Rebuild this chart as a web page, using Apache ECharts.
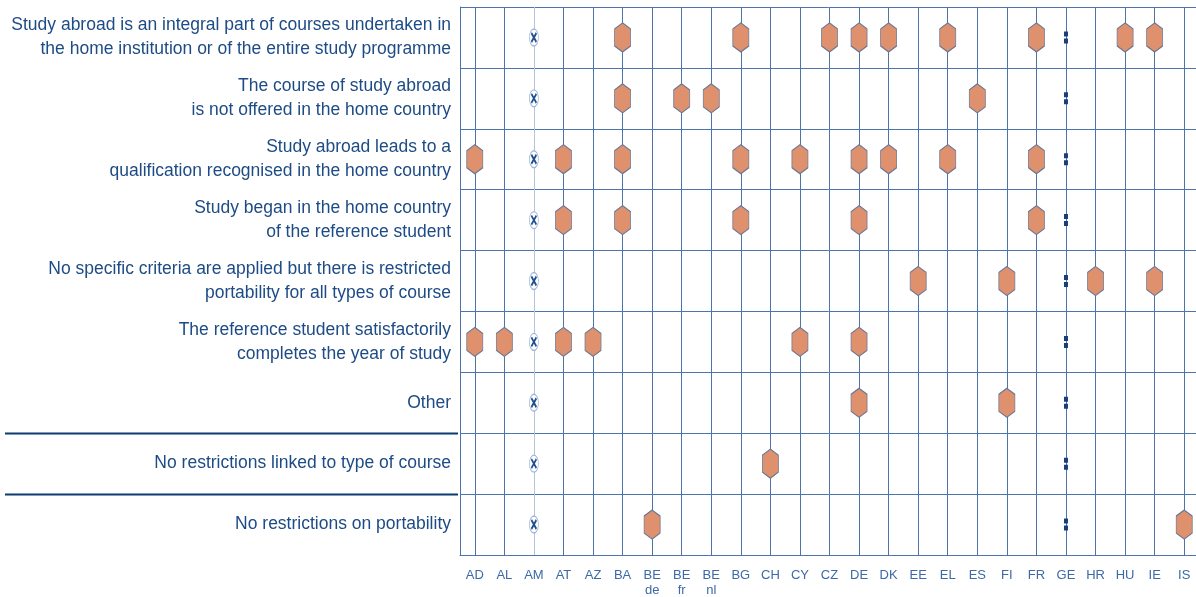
<!DOCTYPE html>
<html>
<head>
<meta charset="utf-8">
<script src="https://cdn.jsdelivr.net/npm/echarts@6/dist/echarts.min.js"></script>
<style>
  html, body { margin: 0; padding: 0; background: #fff; }
  #chart { width: 1196px; height: 597px; }
</style>
</head>
<body>
<div id="chart"></div>
<script>
// countries along the bottom
const countries = ['AD', 'AL', 'AM', 'AT', 'AZ', 'BA', 'BE de', 'BE fr', 'BE nl', 'BG', 'CH', 'CY', 'CZ',
  'DE', 'DK', 'EE', 'EL', 'ES', 'FI', 'FR', 'GE', 'HR', 'HU', 'IE', 'IS'];

// criteria (rows, top to bottom)
const criteria = [
  'Study abroad is an integral part of courses undertaken in\nthe home institution or of the entire study programme',
  'The course of study abroad\nis not offered in the home country',
  'Study abroad leads to a\nqualification recognised in the home country',
  'Study began in the home country\nof the reference student',
  'No specific criteria are applied but there is restricted\nportability for all types of course',
  'The reference student satisfactorily\ncompletes the year of study',
  'Other',
  'No restrictions linked to type of course',
  'No restrictions on portability'
];

// which countries apply each criterion
const integralPart = ['BA', 'BG', 'CZ', 'DE', 'DK', 'EL', 'FR', 'HU', 'IE'];
const notOfferedAtHome = ['BA', 'BE fr', 'BE nl', 'ES'];
const qualificationRecognised = ['AD', 'AT', 'BA', 'BG', 'CY', 'DE', 'DK', 'EL', 'FR'];
const studyBeganAtHome = ['AT', 'BA', 'BG', 'DE', 'FR'];
const restrictedAllCourses = ['EE', 'FI', 'HR', 'IE'];
const completesYear = ['AD', 'AL', 'AT', 'AZ', 'CY', 'DE'];
const otherCriteria = ['DE', 'FI'];
const noCourseRestrictions = ['CH'];
const noPortabilityRestrictions = ['BE de', 'IS'];

// special columns: shown in every row
const notApplicable = ['AM'];
const noData = ['GE'];

const rows = [integralPart, notOfferedAtHome, qualificationRecognised, studyBeganAtHome,
  restrictedAllCourses, completesYear, otherCriteria, noCourseRestrictions, noPortabilityRestrictions];

let points = [];
rows.forEach((list, i) => {
  list.forEach(c => points.push([c, criteria[i]]));
});
let naPoints = [];
let ndPoints = [];
criteria.forEach(r => {
  notApplicable.forEach(c => naPoints.push([c, r]));
  noData.forEach(c => ndPoints.push([c, r]));
});

// AM column line is lighter than the others
const vLineColors = countries.map(c => (notApplicable.indexOf(c) >= 0 ? '#b3c5de' : '#4d75ab'));

const blue = '#1d4b85';
const narrow = '"Liberation Sans Narrow", "Arial Narrow", "Liberation Sans", sans-serif';

let mychart = echarts.init(document.getElementById('chart'));
let option = {
  animation: false,
  grid: {
    left: 460,
    top: 7,
    width: 739,
    height: 548,
    outerBoundsMode: 'none',
    containLabel: false
  },
  xAxis: {
    type: 'category',
    data: countries,
    axisLine: { show: true, lineStyle: { color: '#4d75ab', width: 1 } },
    axisTick: { show: false },
    axisLabel: {
      color: '#3d6aa5',
      fontFamily: narrow,
      fontSize: 13,
      lineHeight: 15,
      margin: 13,
      interval: 0,
      formatter: v => v.replace(' ', '\n')
    },
    splitLine: {
      show: true,
      alignWithLabel: true,
      lineStyle: { color: vLineColors, width: 1 }
    }
  },
  yAxis: {
    type: 'category',
    data: criteria,
    inverse: true,
    axisLine: { show: true, lineStyle: { color: '#4d75ab', width: 1 } },
    axisTick: { show: false },
    axisLabel: {
      color: blue,
      fontFamily: narrow,
      fontSize: 17.5,
      lineHeight: 24,
      margin: 9,
      align: 'right'
    },
    splitLine: {
      show: true,
      lineStyle: { color: '#4d75ab', width: 1 }
    }
  },
  series: [
    {
      name: 'criteria',
      type: 'scatter',
      data: points,
      symbol: 'path://M8,0 L16,6 L16,23 L8,29 L0,23 L0,6 Z',
      symbolSize: [16, 29],
      itemStyle: {
        color: '#df916e',
        borderColor: '#6b7896',
        borderWidth: 1,
        opacity: 1
      },
      z: 3
    },
    {
      name: 'not applicable',
      type: 'scatter',
      data: naPoints,
      symbol: 'path://M0,8 A4,8 0 1 1 8,8 A4,8 0 1 1 0,8 Z',
      symbolSize: [9, 17],
      itemStyle: { color: '#ffffff', borderColor: '#9fb6d6', borderWidth: 1, opacity: 1 },
      z: 3
    },
    {
      name: 'not applicable x',
      type: 'scatter',
      data: naPoints,
      symbol: 'path://M0,0 L6,8 M6,0 L0,8',
      symbolSize: [5, 9],
      itemStyle: { color: 'transparent', borderColor: '#1f4f8f', borderWidth: 2, opacity: 1 },
      z: 4
    },
    {
      name: 'no data',
      type: 'scatter',
      data: ndPoints,
      symbol: 'path://M0,0 L4,0 L4,5 L0,5 Z M0,7 L4,7 L4,12 L0,12 Z',
      symbolSize: [4, 12],
      itemStyle: { color: '#1a3f78', opacity: 1 },
      z: 3
    }
  ]
};
mychart.setOption(option);

// dark separators left of the grid, before the last two rows
let yc = criteria.map(r => mychart.convertToPixel({ yAxisIndex: 0 }, r));
let sepY = [(yc[6] + yc[7]) / 2, (yc[7] + yc[8]) / 2];
mychart.setOption({
  graphic: sepY.map(y => ({
    type: 'line',
    shape: { x1: 5, y1: Math.round(y) + 0.5, x2: 458, y2: Math.round(y) + 0.5 },
    style: { stroke: '#0b3b73', lineWidth: 2 }
  }))
});
</script>
</body>
</html>
